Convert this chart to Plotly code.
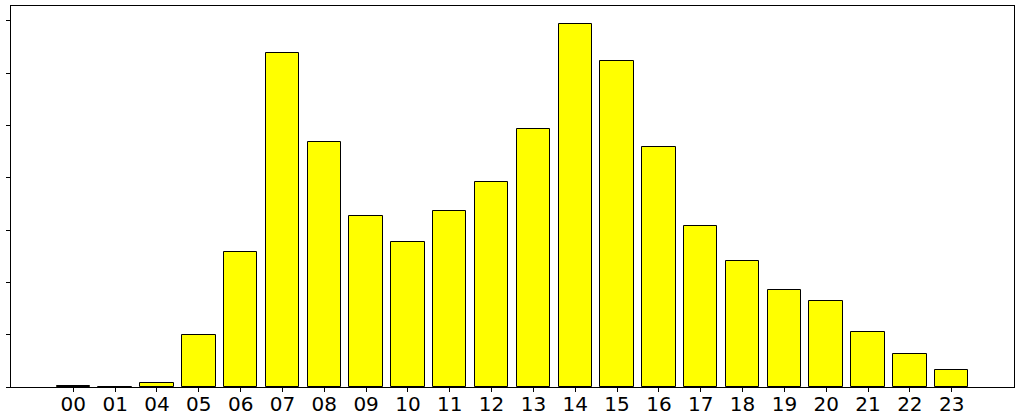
import plotly.graph_objects as go

# hour of day labels and bar heights
hours = ['00', '01', '04', '05', '06', '07', '08', '09', '10', '11', '12',
         '13', '14', '15', '16', '17', '18', '19', '20', '21', '22', '23']
counts = [2.5, 0, 7, 99, 258, 639, 468, 327, 277, 337, 392,
          493, 694, 623, 459, 308, 241, 185, 164, 106, 64, 32]

positions = list(range(len(hours)))

fig = go.Figure()
fig.add_trace(go.Bar(x=positions, y=counts, width=0.8,
                     marker=dict(color='yellow', line=dict(color='black', width=1))))

fig.update_xaxes(tickmode='array', tickvals=positions, ticktext=hours,
                 range=[-1.49, len(hours) - 1 + 1.49], automargin=False,
                 showline=True, mirror=True, linecolor='black', linewidth=1,
                 ticks='outside', ticklen=4, tickcolor='black',
                 tickfont=dict(family='DejaVu Sans', size=20, color='black'),
                 ticklabelstandoff=-5,
                 showgrid=False, zeroline=False)
fig.update_yaxes(range=[0, 728.5], dtick=100, tick0=0, showticklabels=False,
                 automargin=False,
                 showline=True, mirror=True, linecolor='black', linewidth=1,
                 ticks='outside', ticklen=4, tickcolor='black',
                 showgrid=False, zeroline=False)

fig.update_layout(width=1022, height=420, showlegend=False,
                  margin=dict(l=11, r=8, t=6, b=33),
                  plot_bgcolor='white', paper_bgcolor='white', bargap=0)

# drop the default page margin so the figure sits at the window corner
fig.write_html("out.html", config={'displayModeBar': False},
               post_script="document.body.style.margin='0';")
